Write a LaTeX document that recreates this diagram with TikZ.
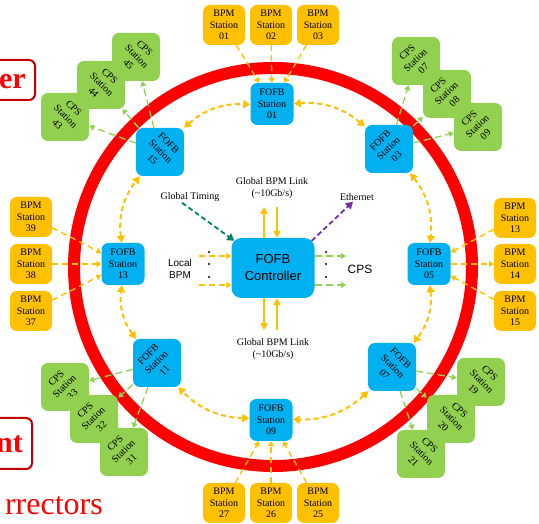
\documentclass[tikz,border=0pt]{standalone}
\usepackage{fontspec}
\setmainfont{Liberation Serif}
\setsansfont{Liberation Sans}
\usetikzlibrary{arrows.meta}
\definecolor{ringred}{RGB}{255,0,0}
\definecolor{bpmgold}{RGB}{255,192,0}
\definecolor{fofbblue}{RGB}{0,176,240}
\definecolor{cpsgreen}{RGB}{146,208,80}
\definecolor{framered}{RGB}{192,0,0}
\definecolor{timingteal}{RGB}{0,128,110}
\definecolor{ethpurple}{RGB}{112,48,160}

% three stacked lines, turned by #1 degrees
\newcommand{\turned}[4]{\rotatebox{#1}{\begin{tabular}{@{}c@{}}#2\\#3\\#4\end{tabular}}}

\begin{document}
\begin{tikzpicture}[x=1pt,y=1pt,
  box/.style={rounded corners=7pt, inner sep=0pt, align=center,
    font=\fontsize{10}{11.5}\selectfont},
  bpm/.style={box, fill=bpmgold, minimum width=42pt, minimum height=40pt},
  fofb/.style={box, fill=fofbblue, minimum width=43pt, minimum height=42pt},
  fofbd/.style={box, fill=fofbblue, minimum width=48pt, minimum height=48pt},
  cps/.style={box, fill=cpsgreen, minimum width=48pt, minimum height=48pt},
  tip/.style={Triangle[width=6pt,length=5pt]},
  bpmlink/.style={bpmgold, line width=1.4pt, dash pattern=on 6pt off 4pt, -{Triangle[width=6pt,length=5pt]}},
  ringlink/.style={bpmgold, line width=2pt, dash pattern=on 5pt off 3.5pt,
    {Triangle[width=8pt,length=7pt]}-{Triangle[width=8pt,length=7pt]}},
  cpslink/.style={cpsgreen, line width=1.3pt, dash pattern=on 7pt off 4pt, -{Triangle[width=6pt,length=5pt]}},
  solidlink/.style={bpmgold, line width=1.6pt},
  lbl/.style={inner sep=1pt, align=center, font=\fontsize{10}{12}\selectfont},
]
\useasboundingbox (0,0) rectangle (539,524);
\clip (0,0) rectangle (539,524);

% storage ring
\draw[ringred, line width=12pt] (273,257) circle (199);

% FOFB stations
\node[fofb]  (f01) at (272,420) {FOFB\\Station\\01};
\node[fofbd] (f03) at (389,375) {\turned{45}{FOFB}{Station}{03}};
\node[fofb]  (f05) at (429,260) {FOFB\\Station\\05};
\node[fofbd] (f07) at (392,157) {\turned{-45}{FOFB}{Station}{07}};
\node[fofb]  (f09) at (271,104) {FOFB\\Station\\09};
\node[fofbd] (f11) at (157,161) {\turned{45}{FOFB}{Station}{11}};
\node[fofb]  (f13) at (123,260) {FOFB\\Station\\13};
\node[fofbd] (f15) at (160,372) {\turned{-45}{FOFB}{Station}{15}};

% BPM stations
\node[bpm] (b01) at (224,499) {BPM\\Station\\01};
\node[bpm] (b02) at (271,499) {BPM\\Station\\02};
\node[bpm] (b03) at (318,499) {BPM\\Station\\03};
\node[bpm] (b13) at (515,306) {BPM\\Station\\13};
\node[bpm] (b14) at (515,260) {BPM\\Station\\14};
\node[bpm] (b15) at (515,213) {BPM\\Station\\15};
\node[bpm] (b27) at (224,21) {BPM\\Station\\27};
\node[bpm] (b26) at (271,21) {BPM\\Station\\26};
\node[bpm] (b25) at (318,21) {BPM\\Station\\25};
\node[bpm] (b39) at (31,307) {BPM\\Station\\39};
\node[bpm] (b38) at (31,260) {BPM\\Station\\38};
\node[bpm] (b37) at (31,213) {BPM\\Station\\37};

% CPS stations
\node[cps] (c45) at (136,467) {\turned{-45}{CPS}{Station}{45}};
\node[cps] (c44) at (101,439) {\turned{-45}{CPS}{Station}{44}};
\node[cps] (c43) at (65,407)  {\turned{-45}{CPS}{Station}{43}};
\node[cps] (c07) at (416,463) {\turned{45}{CPS}{Station}{07}};
\node[cps] (c08) at (447,430) {\turned{45}{CPS}{Station}{08}};
\node[cps] (c09) at (478,397) {\turned{45}{CPS}{Station}{09}};
\node[cps] (c19) at (481,142) {\turned{-45}{CPS}{Station}{19}};
\node[cps] (c20) at (451,105) {\turned{-45}{CPS}{Station}{20}};
\node[cps] (c21) at (421,70)  {\turned{-45}{CPS}{Station}{21}};
\node[cps] (c33) at (65,137)  {\turned{45}{CPS}{Station}{33}};
\node[cps] (c32) at (94,105)  {\turned{45}{CPS}{Station}{32}};
\node[cps] (c31) at (124,72)  {\turned{45}{CPS}{Station}{31}};

% central controller and its labels
\node[box, rounded corners=10pt, fill=fofbblue, minimum width=83pt, minimum height=60pt,
  font=\sffamily\fontsize{13}{17}\selectfont] (ctrl) at (273,256) {FOFB\\Controller};
\node[lbl] (gt)  at (190,327) {Global Timing};
\node[lbl] (gbt) at (272,336) {Global BPM Link\\(\textasciitilde10Gb/s)};
\node[lbl] (gbb) at (273,175) {Global BPM Link\\(\textasciitilde10Gb/s)};
\node[lbl] (eth) at (357,327) {Ethernet};
\node[lbl, font=\sffamily\fontsize{10}{12.5}\selectfont] (lbpm) at (180,255) {Local\\BPM};
\node[lbl, font=\sffamily\fontsize{12}{14}\selectfont] (cpsl) at (360,255) {CPS};

% BPM stations feeding the FOFB stations
\draw[bpmlink] (b01) -- (f01);
\draw[bpmlink] (b02) -- (f01);
\draw[bpmlink] (b03) -- (f01);
\draw[bpmlink] (b13) -- (f05);
\draw[bpmlink] (f05) -- (b14);
\draw[bpmlink] (b15) -- (f05);
\draw[bpmlink] (b27) -- (f09);
\draw[bpmlink] (b26) -- (f09);
\draw[bpmlink] (b25) -- (f09);
\draw[bpmlink] (b39) -- (f13);
\draw[bpmlink] (b38) -- (f13);
\draw[bpmlink] (b37) -- (f13);

% links between neighbouring FOFB stations
\draw[ringlink] (f01) to[bend left=22] (f03);
\draw[ringlink] (f03) to[bend left=22] (f05);
\draw[ringlink] (f05) to[bend left=22] (f07);
\draw[ringlink] (f07) to[bend left=22] (f09);
\draw[ringlink] (f09) to[bend left=22] (f11);
\draw[ringlink] (f11) to[bend left=22] (f13);
\draw[ringlink] (f13) to[bend left=22] (f15);
\draw[ringlink] (f15) to[bend left=22] (f01);

% FOFB stations driving the corrector power supplies
\draw[cpslink] (f15) -- (c45);
\draw[cpslink] (f15) -- (c44);
\draw[cpslink] (f15) -- (c43);
\draw[cpslink] (f03) -- (c07);
\draw[cpslink] (f03) -- (c08);
\draw[cpslink] (f03) -- (c09);
\draw[cpslink] (f07) -- (c19);
\draw[cpslink] (f07) -- (c20);
\draw[cpslink] (f07) -- (c21);
\draw[cpslink] (f11) -- (c33);
\draw[cpslink] (f11) -- (c32);
\draw[cpslink] (f11) -- (c31);

% controller connections
\draw[solidlink, -{Triangle[width=7pt,length=7pt]}] ([xshift=-9pt]ctrl.north) -- ++(0,31);
\draw[solidlink, {Triangle[width=7pt,length=7pt]}-] ([xshift=4pt]ctrl.north) -- ++(0,31);
\draw[solidlink, -{Triangle[width=7pt,length=7pt]}] ([xshift=-9pt]ctrl.south) -- ++(0,-32);
\draw[solidlink, {Triangle[width=7pt,length=7pt]}-] ([xshift=4pt]ctrl.south) -- ++(0,-32);

\coordinate (lb1) at (199,268);
\coordinate (lb2) at (199,239);
\coordinate (cp1) at (346,268);
\coordinate (cp2) at (346,239);
\draw[bpmlink] (lb1) -- (lb1 -| ctrl.west);
\draw[bpmlink] (lb2) -- (lb2 -| ctrl.west);
\draw[cpslink] (cp1 -| ctrl.east) -- (cp1);
\draw[cpslink] (cp2 -| ctrl.east) -- (cp2);
\foreach \yy in {272,260,247} {
  \fill (209,\yy) circle (1.2pt);
  \fill (326,\yy) circle (1.2pt);
}

\draw[timingteal, line width=1.8pt, dash pattern=on 5pt off 3pt, -{Triangle[width=8pt,length=7pt]}]
  ([xshift=-8pt]gt.south) -- ([shift={(3pt,-3pt)}]ctrl.north west);
\draw[ethpurple, line width=1.8pt, dash pattern=on 5pt off 3pt, -{Triangle[width=8pt,length=7pt]}]
  ([shift={(-3pt,-3pt)}]ctrl.north east) -- ([xshift=-4pt]eth.south);

% cut-off slide captions at the left edge
\draw[framered, line width=2pt, rounded corners=6pt] (-20,424) rectangle (35,464);
\node[anchor=base east, inner sep=0pt, text=ringred, font=\bfseries\fontsize{30}{30}\selectfont] (er) at (26,435) {er};
\draw[framered, line width=2pt, rounded corners=6pt] (-20,55) rectangle (32,106);
\node[anchor=base east, inner sep=0pt, text=ringred, font=\bfseries\fontsize{30}{30}\selectfont] (nt) at (23,71) {nt};
\node[anchor=base east, inner sep=0pt, text=ringred, font=\fontsize{32}{32}\selectfont] (corr) at (103,9) {rrectors};
\end{tikzpicture}
\end{document}
